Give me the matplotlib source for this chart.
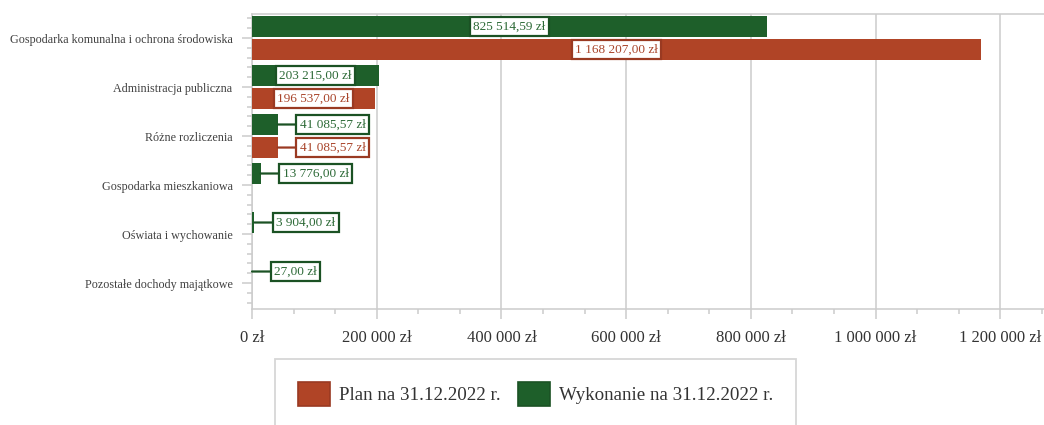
import matplotlib
matplotlib.use('Agg')
import matplotlib.pyplot as plt
from matplotlib.ticker import MultipleLocator, FuncFormatter
from matplotlib.patches import Patch

plt.rcParams['font.family'] = ['Liberation Serif', 'DejaVu Serif']

# Data
categories = ['Gospodarka komunalna i ochrona środowiska',
              'Administracja publiczna',
              'Różne rozliczenia',
              'Gospodarka mieszkaniowa',
              'Oświata i wychowanie',
              'Pozostałe dochody majątkowe']
plan = [1168207.00, 196537.00, 41085.57, 0, 0, 0]
wykonanie = [825514.59, 203215.00, 41085.57, 13776.00, 3904.00, 27.00]
series_names = ['Plan na 31.12.2022 r.', 'Wykonanie na 31.12.2022 r.']

RED = '#b04426'
RED_EDGE = '#9a3a22'
RED_TEXT = '#a9452b'
GREEN = '#1e5f2a'
GREEN_EDGE = '#1b5224'
GREEN_TEXT = '#2d6a37'
GRID = '#cccccc'


def fmt_money(v):
    # 825514.59 -> "825 514,59 zł"
    s = f'{v:,.2f}'.replace(',', ' ').replace('.', ',')
    return s + ' zł'


def fmt_tick(v, pos):
    return f'{int(round(v)):,}'.replace(',', ' ') + ' zł'


def add_labels(ax, values, offset, text_color, edge_color):
    for i, v in enumerate(values):
        if v == 0:
            continue
        y = i + offset
        box = dict(boxstyle='square,pad=0.25', facecolor='white',
                   edgecolor=edge_color, linewidth=1.6)
        if v > 100000:
            ax.text(v / 2, y, fmt_money(v), ha='center', va='center',
                    fontsize=9.5, color=text_color, bbox=box, zorder=5)
        else:
            ax.annotate(fmt_money(v), xy=(v, y), xytext=(22, 0),
                        textcoords='offset pixels', ha='left', va='center',
                        fontsize=9.5, color=text_color, bbox=box, zorder=5,
                        arrowprops=dict(arrowstyle='-', color=edge_color,
                                        lw=1.6, shrinkA=0, shrinkB=0))


fig = plt.figure(figsize=(10.44, 4.25), dpi=100)
ax = fig.add_axes([252 / 1044, 1 - 309 / 425, 1 - 252 / 1044, (309 - 14) / 425])

ypos = list(range(len(categories)))
h = 0.43
off = 0.235
ax.barh([y - off for y in ypos], wykonanie, height=h, color=GREEN, zorder=3)
ax.barh([y + off for y in ypos], plan, height=h, color=RED, zorder=3)

add_labels(ax, wykonanie, -off, GREEN_TEXT, GREEN_EDGE)
add_labels(ax, plan, off, RED_TEXT, RED_EDGE)

ax.set_xlim(0, 1270000)
ax.set_ylim(5.53, -0.49)

ax.xaxis.set_major_locator(MultipleLocator(200000))
ax.xaxis.set_minor_locator(MultipleLocator(200000 / 3))
ax.xaxis.set_major_formatter(FuncFormatter(fmt_tick))
ax.set_yticks(ypos)
ax.set_yticklabels(categories)
ax.yaxis.set_minor_locator(MultipleLocator(0.2))

ax.tick_params(axis='x', which='major', length=7, width=1.1, color=GRID,
               labelsize=12, labelcolor='#333333', pad=8)
ax.tick_params(axis='x', which='minor', length=3.5, width=1.1, color=GRID)
ax.tick_params(axis='y', which='major', length=7, width=1.1, color=GRID,
               labelsize=8.7, labelcolor='#404040', pad=7)
ax.tick_params(axis='y', which='minor', length=3.5, width=1.1, color=GRID)

ax.grid(axis='x', which='major', color=GRID, linewidth=1.1, zorder=0)
ax.set_axisbelow(True)
for side in ['top', 'left', 'bottom']:
    ax.spines[side].set_color(GRID)
    ax.spines[side].set_linewidth(1.1)
ax.spines['right'].set_visible(False)

handles = [Patch(facecolor=RED, edgecolor=RED_EDGE, linewidth=1.2),
           Patch(facecolor=GREEN, edgecolor=GREEN_EDGE, linewidth=1.2)]
leg = fig.legend(handles, series_names, loc='upper left',
                 bbox_to_anchor=(275 / 1044, 1 - 359 / 425), ncol=2,
                 fontsize=13.7, frameon=True, fancybox=False, borderaxespad=0,
                 borderpad=1.2, handlelength=1.7, handleheight=1.55,
                 handletextpad=0.47, columnspacing=0.9)
leg.get_frame().set_edgecolor(GRID)
leg.get_frame().set_linewidth(1.3)
for t in leg.get_texts():
    t.set_color('#333333')

fig.savefig('out.png', dpi=100)
